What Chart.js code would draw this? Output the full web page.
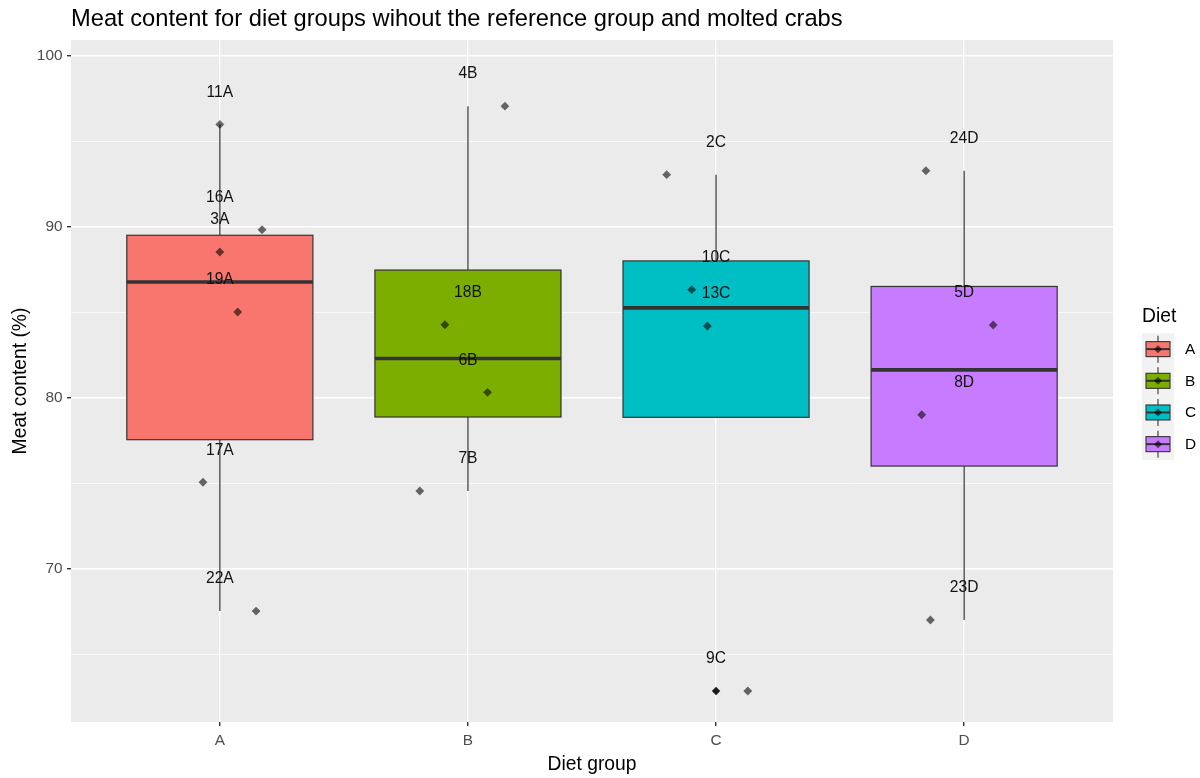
<!DOCTYPE html>
<html>
<head>
<meta charset="utf-8">
<script src="https://cdn.jsdelivr.net/npm/chart.js@4.4.1/dist/chart.umd.min.js"></script>
<style>
  html, body { margin: 0; padding: 0; background: #ffffff; }
  #wrap { width: 1200px; height: 778px; }
</style>
</head>
<body>
<div id="wrap"><canvas id="c" width="1200" height="778"></canvas></div>
<script>
// Diet groups and their fill colours
const dietGroups = ['A', 'B', 'C', 'D'];
const groupColors = ['#F8766D', '#7CAE00', '#00BFC4', '#C77CFF'];

// One entry per crab: id, diet group index, meat content (%), horizontal jitter (group units)
const crabIds      = ['11A', '16A', '3A', '19A', '17A', '22A', '4B', '18B', '6B', '7B', '2C', '10C', '13C', '9C', '24D', '5D', '8D', '23D'];
const crabGroup    = [0, 0, 0, 0, 0, 0, 1, 1, 1, 1, 2, 2, 2, 2, 3, 3, 3, 3];
const meatContent  = [96.0, 89.84, 88.53, 85.02, 75.06, 67.52, 97.07, 84.28, 80.32, 74.55, 93.06, 86.33, 84.2, 62.84, 93.29, 84.26, 79.01, 67.0];
const jitterOffset = [0, 0.17, 0, 0.072, -0.068, 0.146, 0.149, -0.093, 0.079, -0.194, -0.199, -0.098, -0.035, 0.128, -0.154, 0.117, -0.171, -0.136];

// Y axis grid (major + minor) and labelled ticks
const yGridValues = [65, 70, 75, 80, 85, 90, 95, 100];
const yTickLabels = [70, 80, 90, 100];

const FONT = "'Liberation Sans', Arial, Helvetica, sans-serif";
const BOX_HALF = 0.375;      // half box width in group units
const LABEL_NUDGE = 1.87;    // id labels sit above their points (data units)

// Tukey box statistics (R quantile type 7)
function quantile(sorted, p) {
  const h = (sorted.length - 1) * p;
  const lo = Math.floor(h), hi = Math.ceil(h);
  return sorted[lo] + (h - lo) * (sorted[hi] - sorted[lo]);
}
const boxStats = dietGroups.map((g, gi) => {
  const vals = meatContent.filter((v, i) => crabGroup[i] === gi).sort((a, b) => a - b);
  const q1 = quantile(vals, 0.25), med = quantile(vals, 0.5), q3 = quantile(vals, 0.75);
  const iqr = q3 - q1;
  const lowFence = q1 - 1.5 * iqr, highFence = q3 + 1.5 * iqr;
  const inside = vals.filter(v => v >= lowFence && v <= highFence);
  return {
    q1, med, q3,
    lower: Math.min(...inside),
    upper: Math.max(...inside),
    outliers: vals.filter(v => v < lowFence || v > highFence)
  };
});
const outlierPoints = [];
boxStats.forEach((s, gi) => s.outliers.forEach(v => outlierPoints.push({ x: gi, y: v })));

// Grey panel behind the plot area
const panelBackground = {
  id: 'panelBackground',
  beforeDraw(chart) {
    const { ctx, chartArea: a } = chart;
    ctx.save();
    ctx.fillStyle = '#FFFFFF';
    ctx.fillRect(0, 0, chart.width, chart.height);
    ctx.fillStyle = '#EBEBEB';
    ctx.fillRect(a.left, a.top, a.right - a.left, a.bottom - a.top);
    ctx.restore();
  }
};

// Whiskers, boxes and medians
const boxPlots = {
  id: 'boxPlots',
  beforeDatasetsDraw(chart) {
    const { ctx, scales: { x, y } } = chart;
    ctx.save();
    boxStats.forEach((s, gi) => {
      const cx = x.getPixelForValue(gi);
      const l = x.getPixelForValue(gi - BOX_HALF);
      const r = x.getPixelForValue(gi + BOX_HALF);
      ctx.strokeStyle = '#333333';
      ctx.lineWidth = 1.2;
      ctx.beginPath();
      ctx.moveTo(cx, y.getPixelForValue(s.q3));
      ctx.lineTo(cx, y.getPixelForValue(s.upper));
      ctx.moveTo(cx, y.getPixelForValue(s.q1));
      ctx.lineTo(cx, y.getPixelForValue(s.lower));
      ctx.stroke();
      const top = y.getPixelForValue(s.q3), bot = y.getPixelForValue(s.q1);
      ctx.fillStyle = groupColors[gi];
      ctx.fillRect(l, top, r - l, bot - top);
      ctx.strokeRect(l, top, r - l, bot - top);
      ctx.lineWidth = 3.6;
      ctx.beginPath();
      const m = y.getPixelForValue(s.med);
      ctx.moveTo(l, m);
      ctx.lineTo(r, m);
      ctx.stroke();
    });
    ctx.restore();
  }
};

// Crab id labels above each point
const idLabels = {
  id: 'idLabels',
  afterDatasetsDraw(chart) {
    const { ctx, scales: { x, y } } = chart;
    ctx.save();
    ctx.font = `15.6px ${FONT}`;
    ctx.fillStyle = '#111111';
    ctx.textAlign = 'center';
    ctx.textBaseline = 'middle';
    crabIds.forEach((id, i) => {
      ctx.fillText(id, x.getPixelForValue(crabGroup[i]), y.getPixelForValue(meatContent[i] + LABEL_NUDGE));
    });
    ctx.restore();
  }
};

// Plot title and the Diet legend on the right
const titleAndLegend = {
  id: 'titleAndLegend',
  afterDraw(chart) {
    const { ctx, chartArea: a } = chart;
    ctx.save();
    ctx.fillStyle = '#000000';
    ctx.font = `23.7px ${FONT}`;
    ctx.textAlign = 'left';
    ctx.textBaseline = 'middle';
    ctx.fillText('Meat content for diet groups wihout the reference group and molted crabs', a.left, 19);

    const lx = a.right + 29, keyW = 32, keyH = 31.67, ky0 = 333.3;
    ctx.font = `19.3px ${FONT}`;
    ctx.fillText('Diet', lx, 317);
    ctx.fillStyle = '#F2F2F2';
    ctx.fillRect(lx, ky0, keyW, keyH * dietGroups.length);
    dietGroups.forEach((g, gi) => {
      const cy = ky0 + keyH * (gi + 0.5);
      const cx = lx + keyW / 2;
      ctx.strokeStyle = '#333333';
      ctx.lineWidth = 1.1;
      ctx.beginPath();
      ctx.moveTo(cx, cy - 13.5); ctx.lineTo(cx, cy + 13.5);
      ctx.stroke();
      ctx.fillStyle = groupColors[gi];
      ctx.fillRect(cx - 12, cy - 7.5, 24, 15);
      ctx.strokeRect(cx - 12, cy - 7.5, 24, 15);
      ctx.lineWidth = 2;
      ctx.beginPath();
      ctx.moveTo(cx - 12, cy); ctx.lineTo(cx + 12, cy);
      ctx.stroke();
      ctx.fillStyle = 'rgba(0,0,0,0.6)';
      ctx.beginPath();
      ctx.moveTo(cx, cy - 4); ctx.lineTo(cx + 4, cy); ctx.lineTo(cx, cy + 4); ctx.lineTo(cx - 4, cy);
      ctx.closePath(); ctx.fill();
      ctx.fillStyle = '#000000';
      ctx.font = `15.4px ${FONT}`;
      ctx.fillText(g, lx + 43, cy + 0.5);
    });
    ctx.restore();
  }
};

const isMajorY = v => yTickLabels.includes(v);

new Chart(document.getElementById('c'), {
  type: 'scatter',
  data: {
    datasets: [
      {
        label: 'Crabs',
        data: crabIds.map((id, i) => ({ x: crabGroup[i] + jitterOffset[i], y: meatContent[i] })),
        pointStyle: 'rectRot',
        pointRadius: 4.2,
        backgroundColor: 'rgba(0,0,0,0.58)',
        borderColor: 'rgba(0,0,0,0.3)',
        borderWidth: 0.6,
        order: 0
      },
      {
        label: 'Outliers',
        data: outlierPoints,
        pointStyle: 'rectRot',
        pointRadius: 4.2,
        backgroundColor: '#1a1a1a',
        borderWidth: 0,
        order: 1
      }
    ]
  },
  options: {
    responsive: false,
    animation: false,
    devicePixelRatio: 1,
    layout: { padding: { left: 0, top: 40, right: 87, bottom: 0 } },
    plugins: { legend: { display: false }, tooltip: { enabled: false }, title: { display: false } },
    scales: {
      x: {
        type: 'linear',
        min: -0.6,
        max: 3.6,
        afterBuildTicks: s => { s.ticks = dietGroups.map((g, i) => ({ value: i })); },
        afterFit: s => { s.height = 56; },
        border: { display: false },
        grid: { color: '#FFFFFF', lineWidth: 1.4, tickColor: '#333333', tickLength: 4 },
        ticks: {
          autoSkip: false, maxRotation: 0, padding: 6,
          color: '#4D4D4D', font: { family: FONT, size: 15.4 },
          callback: v => dietGroups[v]
        },
        title: {
          display: true, text: 'Diet group', color: '#000000',
          font: { family: FONT, size: 19.3 }, padding: { top: 0, bottom: 1.4 }
        }
      },
      y: {
        type: 'linear',
        min: 61.03,
        max: 100.94,
        afterBuildTicks: s => { s.ticks = yGridValues.map(v => ({ value: v })); },
        afterFit: s => { s.width = 71; },
        border: { display: false },
        grid: {
          color: '#FFFFFF',
          lineWidth: c => (c.tick && isMajorY(c.tick.value)) ? 1.4 : 0.7,
          tickColor: c => (c.tick && isMajorY(c.tick.value)) ? '#333333' : 'rgba(0,0,0,0)',
          tickLength: 4
        },
        ticks: {
          autoSkip: false, padding: 4.5,
          color: '#4D4D4D', font: { family: FONT, size: 15.4 },
          callback: v => isMajorY(v) ? String(v) : ''
        },
        title: {
          display: true, text: 'Meat content (%)', color: '#000000',
          font: { family: FONT, size: 19.3 }, padding: { top: 9, bottom: 0 }
        }
      }
    }
  },
  plugins: [panelBackground, boxPlots, idLabels, titleAndLegend]
});
</script>
</body>
</html>
